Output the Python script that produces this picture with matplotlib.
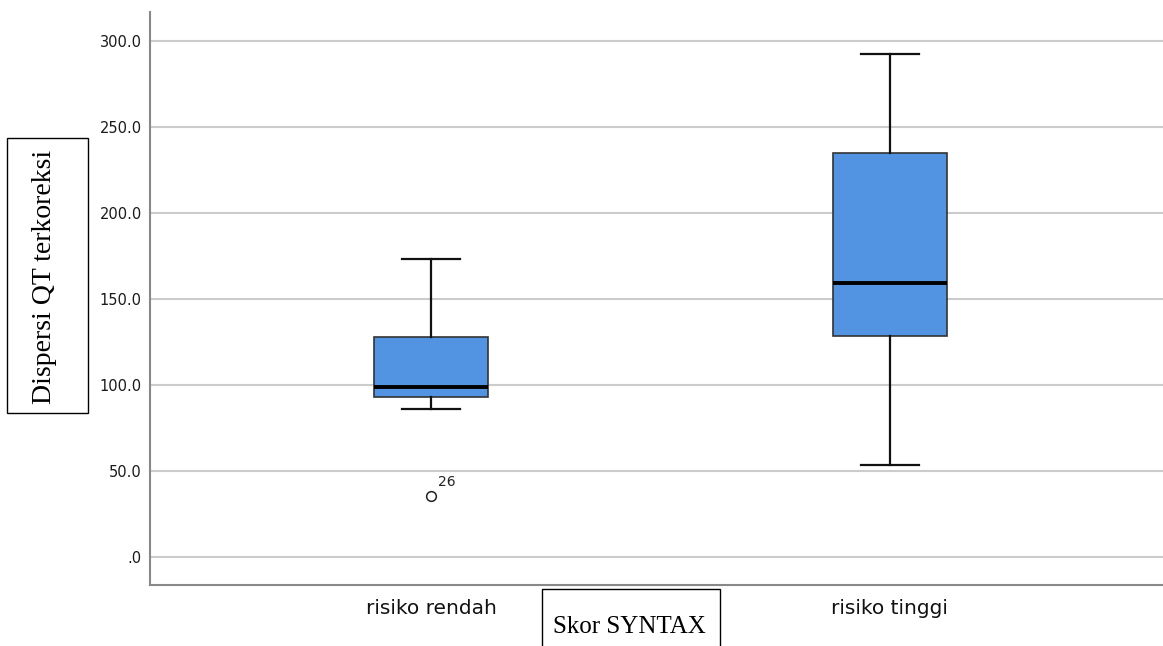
import matplotlib
matplotlib.use("Agg")
import matplotlib.pyplot as plt
from matplotlib.patches import Rectangle

categories = ["risiko rendah", "risiko tinggi"]
whisker_low = [86.0, 53.5]
q1 = [93.0, 128.5]
median = [98.8, 159.3]
q3 = [127.9, 234.9]
whisker_high = [173.3, 292.4]
outliers = [[35.5], []]
outlier_labels = [["26"], []]
yticks = [0, 50, 100, 150, 200, 250, 300]
ytick_labels = [".0", "50.0", "100.0", "150.0", "200.0", "250.0", "300.0"]

W, H = 1163, 646
fig = plt.figure(figsize=(W / 100, H / 100), dpi=100)
ax = fig.add_axes([150 / W, (H - 585) / H, 1 - 150 / W, (585 - 12) / H])

stats = []
for i, c in enumerate(categories):
    stats.append(dict(med=median[i], q1=q1[i], q3=q3[i], whislo=whisker_low[i],
                      whishi=whisker_high[i], fliers=outliers[i], label=c))

positions = [1, 2]
ax.bxp(stats, positions=positions, widths=0.25, capwidths=0.125, patch_artist=True,
       boxprops=dict(facecolor="#5294E2", edgecolor="#333333", linewidth=1.2),
       medianprops=dict(color="black", linewidth=2.8),
       whiskerprops=dict(color="#111111", linewidth=1.6),
       capprops=dict(color="#111111", linewidth=1.6),
       flierprops=dict(marker="o", markerfacecolor="white", markeredgecolor="#222222",
                       markersize=7, markeredgewidth=1.1),
       zorder=3)

for i, (vals, labs) in enumerate(zip(outliers, outlier_labels)):
    for v, l in zip(vals, labs):
        ax.annotate(l, (positions[i], v), xytext=(5, 5), textcoords="offset points",
                    fontsize=10, color="#222222", ha="left", va="bottom")

ax.set_xlim(0.3878, 2.595)
ax.set_ylim(-16.3, 316.9)
ax.set_yticks(yticks)
ax.set_yticklabels(ytick_labels, fontsize=10.5, color="#1a1a1a")
ax.set_xticks(positions)
ax.set_xticklabels(categories, fontsize=14.5, color="#111111", fontweight="medium")
ax.tick_params(axis="both", length=0)
ax.tick_params(axis="y", pad=6)
ax.tick_params(axis="x", pad=10)
ax.yaxis.grid(True, color="#cccccc", linewidth=1.5, zorder=0)
ax.set_axisbelow(True)
for s in ["top", "right"]:
    ax.spines[s].set_visible(False)
for s in ["left", "bottom"]:
    ax.spines[s].set_color("#888888")
    ax.spines[s].set_linewidth(1.5)

# axis label boxes
fig.patches.append(Rectangle((7 / W, (H - 413) / H), 81 / W, 275 / H, transform=fig.transFigure,
                             fill=False, edgecolor="black", linewidth=1.0))
fig.text(45 / W, (H - 277) / H, "Dispersi QT terkoreksi", rotation=90, ha="center", va="center",
         fontsize=20, family="Liberation Serif", color="black")
fig.patches.append(Rectangle((542 / W, -0.05), 178 / W, (H - 589) / H + 0.05, transform=fig.transFigure,
                             fill=False, edgecolor="black", linewidth=1.0))
fig.text(629 / W, (H - 627) / H, "Skor SYNTAX", ha="center", va="center",
         fontsize=18, family="Liberation Serif", color="black")

fig.savefig("out.png", dpi=100)
